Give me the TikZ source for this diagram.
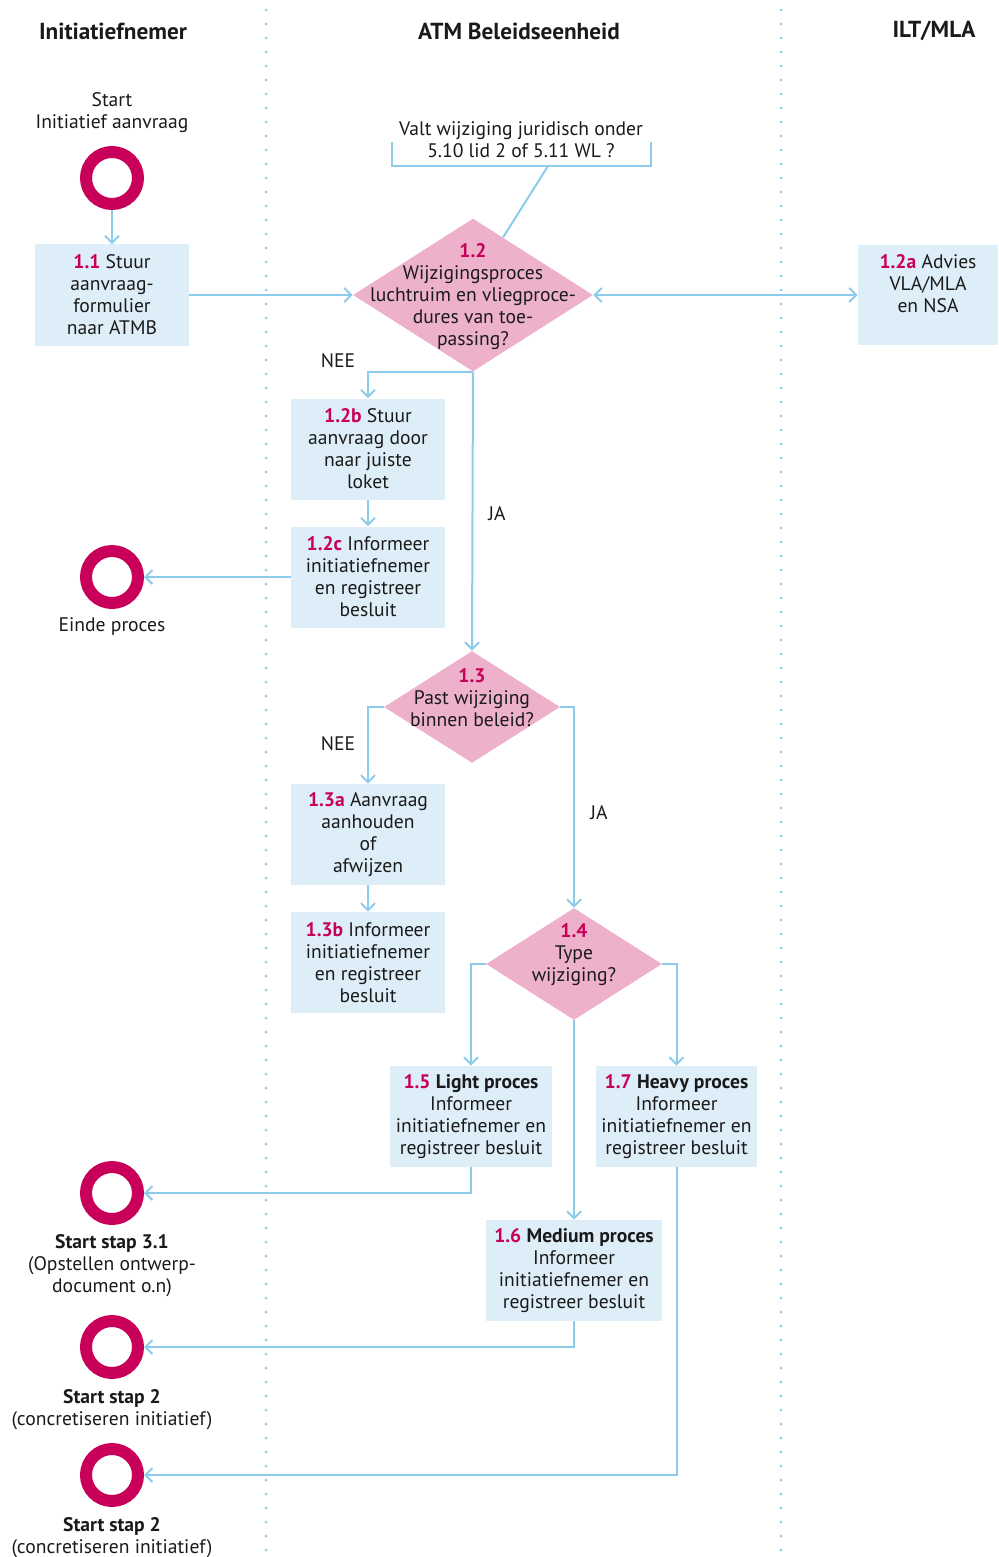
\documentclass[tikz,border=0pt]{standalone}
\usepackage{fontspec}
\setmainfont{PT Sans}
\usetikzlibrary{shapes.geometric,arrows.meta,calc}
\definecolor{flowblue}{HTML}{8CCBEA}
\definecolor{boxblue}{HTML}{DDEEF9}
\definecolor{diapink}{HTML}{EEB1CC}
\definecolor{rubyred}{HTML}{C9005A}
\definecolor{inkgrey}{HTML}{1A1A1A}
\newcommand{\stepnr}[1]{\textbf{\color{rubyred}#1}}

\begin{document}
\begin{tikzpicture}[x=0.5pt,y=-0.5pt,
  font=\fontsize{9.8}{11}\selectfont, text=inkgrey,
  >={Straight Barb[length=3.5pt,width=7pt]},
  box/.style={fill=boxblue, align=center, inner sep=0pt,
    minimum width=77pt, minimum height=50.5pt},
  decision/.style={diamond, fill=diapink, inner sep=0pt},
  ring/.style={circle, draw=rubyred, line width=6pt, minimum size=26pt, inner sep=0pt},
  flow/.style={draw=flowblue, line width=1pt, ->},
  lane/.style={draw=flowblue, line width=1.5pt, line cap=round, dash pattern=on 0pt off 7pt},
  lanehead/.style={font=\fontsize{11.6}{13}\selectfont\bfseries}]
\useasboundingbox (0,0) rectangle (998,1557);

% lanes
\draw[lane] (266,10) -- (266,1557);
\draw[lane] (781,10) -- (781,1557);
\node[lanehead] (h1) at (113,31) {Initiatiefnemer};
\node[lanehead] (h2) at (519,31) {ATM Beleidseenheid};
\node[lanehead] (h3) at (934,31) {ILT/MLA};

% start
\node[align=center] (t0) at (112,113) {Start\\Initiatief aanvraag};
\node[ring] (s0) at (112,178) {};
\node[box] (b11) at (112,295) {\stepnr{1.1} Stuur\\aanvraag-\\formulier\\naar ATMB};

% decision 1.2
\node[decision, minimum width=120pt, minimum height=76.5pt] (d12) at (473,295) {};
\node[align=center] at (473,297) {\stepnr{1.2}\\Wijzigingsproces\\luchtruim en vliegproce-\\dures van toe-\\passing?};
\node[align=center] (q12) at (521,139.5) {Valt wijziging juridisch onder\\5.10 lid 2 of 5.11 WL ?};
\draw[flowblue, line width=1pt] (392,142) -- (392,166) -- (651,166) -- (651,142);
\coordinate (qfoot) at (548,166);
\draw[flowblue, line width=1pt] (qfoot) -- ($(d12.north)!0.25!(d12.east)$);
\node[box, minimum width=70pt, minimum height=50pt] (a12) at (928,295) {\stepnr{1.2a} Advies\\VLA/MLA\\en NSA\\~};

\node[box] (b12b) at (368,449) {\stepnr{1.2b} Stuur\\aanvraag door\\naar juiste\\loket};
\node[box] (b12c) at (368,577) {\stepnr{1.2c} Informeer\\initiatiefnemer\\en registreer\\besluit};
\node[ring] (e0) at (112,577) {};
\node (t1) at (112,627) {Einde proces};

% decision 1.3
\node[decision, minimum width=88pt, minimum height=56pt] (d13) at (472,707) {};
\node[align=center] at (472,698) {\stepnr{1.3}\\Past wijziging\\binnen beleid?};
\node[box] (b13a) at (368,834.5) {\stepnr{1.3a} Aanvraag\\aanhouden\\of\\afwijzen};
\node[box] (b13b) at (368,962.5) {\stepnr{1.3b} Informeer\\initiatiefnemer\\en registreer\\besluit};

% decision 1.4
\node[decision, minimum width=88pt, minimum height=56pt] (d14) at (574,964) {};
\node[align=center] at (574,955) {\stepnr{1.4}\\Type\\wijziging?};
\node[box, minimum width=81pt] (b15) at (471,1116.5) {\stepnr{1.5} \textbf{Light proces}\\Informeer\\initiatiefnemer en\\registreer besluit};
\node[box, minimum width=80.5pt] (b17) at (676.5,1116.5) {\stepnr{1.7} \textbf{Heavy proces}\\Informeer\\initiatiefnemer en\\registreer besluit};
\node[box, minimum width=88pt] (b16) at (574,1270.5) {\stepnr{1.6} \textbf{Medium proces}\\Informeer\\initiatiefnemer en\\registreer besluit};

% end points
\node[ring] (r31) at (112,1193) {};
\node[align=center] (t31) at (112,1266) {\textbf{Start stap 3.1}\\(Opstellen ontwerp-\\document o.n)};
\node[ring] (r2a) at (112,1347) {};
\node[align=center] (t2a) at (112,1410) {\textbf{Start stap 2}\\(concretiseren initiatief)};
\node[ring] (r2b) at (112,1475) {};
\node[align=center] (t2b) at (112,1538) {\textbf{Start stap 2}\\(concretiseren initiatief)};

% connectors
\draw[flow] (s0) -- (b11);
\draw[flow] (b11.east) -- (d12.west);
\draw[flow, <->] (d12.east) -- (a12.west);
\draw[flow] (d12.south) -| (b12b.north);
\node (n12) at (338,361) {NEE};
\draw[flow] (d12.south) -- (d13.north);
\node (j12) at (497,514) {JA};
\draw[flow] (b12b) -- (b12c);
\draw[flow] (b12c.west) -- (e0.east);
\draw[flow] (d13.west) -| (b13a.north);
\node (n13) at (338,744) {NEE};
\draw[flow] (d13.east) -| (d14.north);
\node (j13) at (599,813) {JA};
\draw[flow] (b13a) -- (b13b);
\draw[flow] (d14.west) -| (b15.north);
\draw[flow] (d14.east) -| (b17.north);
\draw[flow] (d14.south) -- (b16.north);
\draw[flow] (b15.south) |- (r31.east);
\draw[flow] (b16.south) |- (r2a.east);
\draw[flow] (b17.south) |- (r2b.east);
\end{tikzpicture}
\end{document}
